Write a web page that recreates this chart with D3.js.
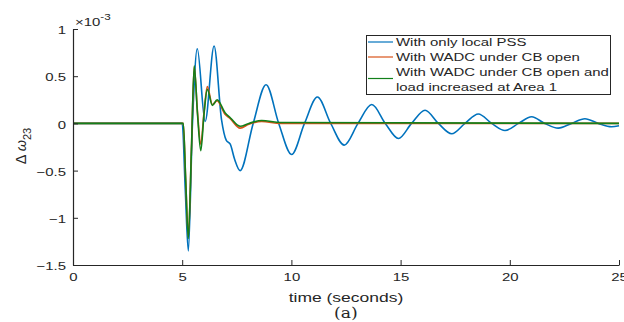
<!DOCTYPE html>
<html>
<head>
<meta charset="utf-8">
<script src="https://cdn.jsdelivr.net/npm/d3@7"></script>
<style>
  body { margin: 0; background: #fff; }
  svg text { font-family: "Liberation Sans", Arial, sans-serif; fill: #262626; }
</style>
</head>
<body>
<div id="chart"></div>
<script>
// time (s) and delta omega (x 1e-3)
const blueT = [0, 5.0, 5.14, 5.28, 5.47, 5.69, 6.05, 6.46, 6.8, 7.02, 7.2, 7.4, 7.65, 8.25, 8.84, 9.42, 10.01, 10.6, 11.19, 11.8, 12.42, 13.05, 13.68, 14.3, 14.9, 15.5, 16.12, 16.73, 17.34, 17.95, 18.56, 19.17, 19.78, 20.4, 21.0, 21.6, 22.22, 22.83, 23.44, 24.05, 24.66, 25];
const blueV = [0, 0, -0.7, -1.35, 0, 0.79, 0.02, 0.82, 0.04, -0.18, -0.22, -0.38, -0.5, 0, 0.41, 0, -0.33, 0, 0.28, 0, -0.23, 0, 0.2, 0, -0.16, 0, 0.14, 0, -0.11, 0, 0.1, 0, -0.075, 0, 0.07, 0, -0.05, 0, 0.05, 0, -0.035, -0.025];

const redT = [0, 5.05, 5.16, 5.28, 5.42, 5.55, 5.7, 5.85, 6.0, 6.15, 6.38, 6.6, 6.95, 7.2, 7.65, 8.05, 8.64, 9.5, 25];
const redV = [0, 0, -0.6, -1.2, -0.3, 0.6, 0.12, -0.22, 0.12, 0.39, 0.2, 0.24, 0.1, 0.05, -0.05, -0.01, 0.02, 0, 0];

const greenT = [0, 5.05, 5.16, 5.28, 5.42, 5.55, 5.7, 5.85, 6.0, 6.15, 6.38, 6.6, 6.97, 7.2, 7.65, 8.05, 8.64, 9.5, 25];
const greenV = [0, 0, -0.6, -1.22, -0.3, 0.61, 0.1, -0.29, 0.1, 0.36, 0.19, 0.25, 0.11, 0.06, -0.03, 0.0, 0.03, 0.01, 0];

const xTicks = [0, 5, 10, 15, 20, 25];
const yTicks = [-1.5, -1, -0.5, 0, 0.5, 1];
const legendLabels = [["With only local PSS"], ["With WADC under CB open"], ["With WADC under CB open and", "load increased at Area 1"]];

const width = 624, height = 322;
const margin = { left: 73, right: 5, top: 29, bottom: 57 };
const SX = 1.3; // the source figure is stretched sideways

const svg = d3.select("#chart").append("svg")
  .attr("width", width)
  .attr("height", height);

const x = d3.scaleLinear().domain([0, 25]).range([margin.left, width - margin.right]);
const y = d3.scaleLinear().domain([-1.5, 1]).range([height - margin.bottom, margin.top]);

// widen a text around its anchor point
function stretch(sel, sx) {
  sel.each(function () {
    const t = d3.select(this);
    const tx = +t.attr("x") || 0, ty = +t.attr("y") || 0;
    t.attr("transform", `translate(${tx},${ty}) scale(${sx},1) translate(${-tx},${-ty})`);
  });
}

const series = [
  { t: blueT, v: blueV, color: "#0072BD" },
  { t: redT, v: redV, color: "#D95319" },
  { t: greenT, v: greenV, color: "#12801a" }
];

const line = d3.line()
  .x(d => x(d[0]))
  .y(d => y(d[1]))
  .curve(d3.curveMonotoneX);

series.forEach(s => {
  svg.append("path")
    .datum(s.t.map((t, i) => [t, s.v[i]]))
    .attr("d", line)
    .attr("fill", "none")
    .attr("stroke", s.color)
    .attr("stroke-width", 1.6);
});

// axes, ticks pointing inward like matlab
const xAxis = svg.append("g")
  .attr("transform", `translate(0,${y(-1.5)})`)
  .call(d3.axisBottom(x).tickValues(xTicks).tickSizeInner(-5).tickSizeOuter(0).tickPadding(8));
const yAxis = svg.append("g")
  .attr("transform", `translate(${x(0)},0)`)
  .call(d3.axisLeft(y).tickValues(yTicks).tickSizeInner(-5).tickSizeOuter(0).tickPadding(7).tickFormat(d3.format("")));

[xAxis, yAxis].forEach(a => {
  a.select(".domain").attr("stroke", "#262626").attr("stroke-width", 1.2);
  a.selectAll(".tick line").attr("stroke", "#262626");
  a.selectAll(".tick text").style("font-size", "11.5px").attr("fill", "#262626");
  stretch(a.selectAll(".tick text"), SX);
});
yAxis.selectAll(".tick text").attr("dy", "0.4em");

// exponent label
const expo = svg.append("text")
  .attr("x", x(0) + 2)
  .attr("y", margin.top - 3)
  .style("font-size", "11.5px");
expo.append("tspan").text("\u00d710");
expo.append("tspan").attr("dy", -6).style("font-size", "9px").text("-3");
stretch(expo, SX);

// axis labels
const xlab = svg.append("text")
  .attr("x", x(12.5))
  .attr("y", 302)
  .attr("text-anchor", "middle")
  .style("font-size", "12.5px")
  .text("time (seconds)");
stretch(xlab, 1.4);

const cap = svg.append("text")
  .attr("x", x(12.5))
  .attr("y", 318)
  .attr("text-anchor", "middle")
  .style("font-family", "'DejaVu Serif', 'Liberation Serif', serif")
  .style("font-size", "15px")
  .text("(a)");
stretch(cap, 1.15);

const ylab = svg.append("text")
  .attr("transform", "translate(26,146) rotate(-90)")
  .attr("text-anchor", "middle")
  .style("font-size", "14.5px");
ylab.append("tspan").text("\u0394 ");
ylab.append("tspan").style("font-style", "italic").text("\u03c9");
ylab.append("tspan").attr("dy", 5).style("font-size", "11px").text("23");

// legend
const legend = svg.append("g");
legend.append("rect")
  .attr("x", 366.5).attr("y", 35.5)
  .attr("width", 244).attr("height", 59)
  .attr("fill", "#fff")
  .attr("stroke", "#262626")
  .attr("stroke-width", 1);

const rowY = [[42], [57], [71.5, 86.5]];
const lineY = [42, 57, 78.5];
legendLabels.forEach((lab, i) => {
  legend.append("line")
    .attr("x1", 368).attr("x2", 393)
    .attr("y1", lineY[i]).attr("y2", lineY[i])
    .attr("stroke", series[i].color)
    .attr("stroke-width", 1.2);
  lab.forEach((txt, j) => {
    const t = legend.append("text")
      .attr("x", 396)
      .attr("y", rowY[i][j])
      .attr("dy", "0.35em")
      .style("font-size", "11.5px")
      .text(txt);
    stretch(t, SX);
  });
});
</script>
</body>
</html>
